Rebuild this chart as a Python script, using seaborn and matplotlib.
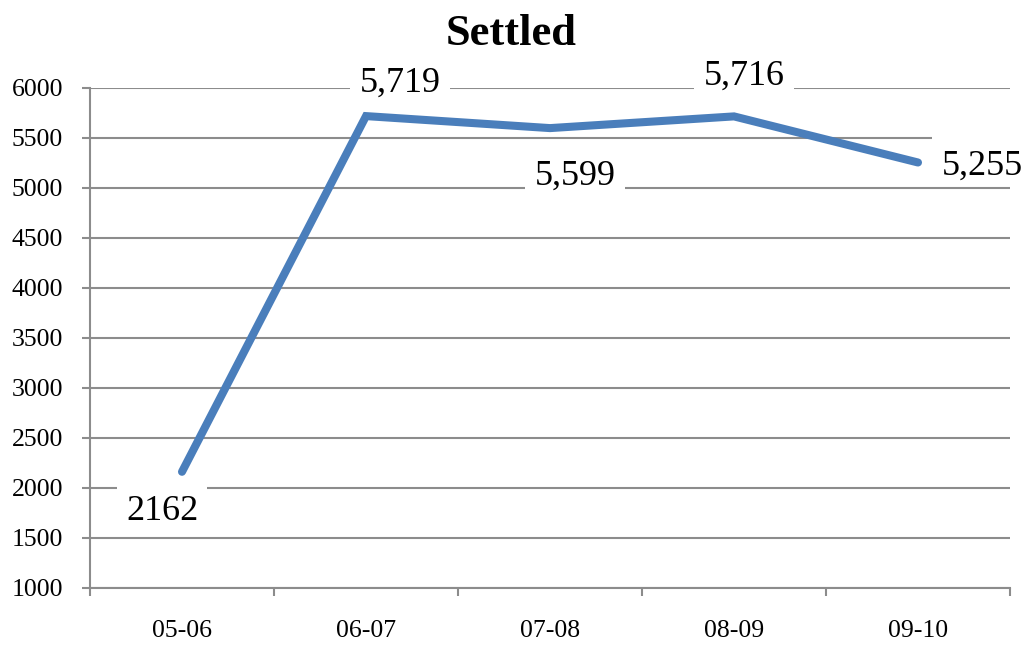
import matplotlib
matplotlib.use("Agg")
import matplotlib.pyplot as plt
import pandas as pd
import seaborn as sns
from matplotlib.path import Path
from matplotlib.ticker import FixedLocator, MultipleLocator

years = ["05-06", "06-07", "07-08", "08-09", "09-10"]
settled = [2162, 5719, 5599, 5716, 5255]
value_labels = ["2162", "5,719", "5,599", "5,716", "5,255"]
# label offsets in pixels (text centre / baseline relative to point)
label_offsets = [(-20, -48), (34, 24), (25, -57), (10, 32), (64, -12)]

LINE_COLOR = "#4a7ebb"
GRID_COLOR = "#8c8c8c"


def label_box(x0, y0, width, height, mutation_size):
    # white box behind data labels, more room above the digits than below
    px, top, bottom = 0.25 * mutation_size, 0.45 * mutation_size, -0.08 * mutation_size
    x1, y1 = x0 + width + px, y0 + height + top
    x0, y0 = x0 - px, y0 - bottom
    return Path([(x0, y0), (x1, y0), (x1, y1), (x0, y1), (x0, y0)], closed=True)


sns.set_style("white")
plt.rcParams["font.family"] = ["Liberation Serif", "DejaVu Serif"]
plt.rcParams["text.color"] = "black"
plt.rcParams["xtick.labelcolor"] = "black"
plt.rcParams["ytick.labelcolor"] = "black"

df = pd.DataFrame({"pos": range(len(years)), "Settled": settled})

fig = plt.figure(figsize=(10.31, 6.45), dpi=100)
ax = fig.add_axes([90 / 1031, 57 / 645, 920 / 1031, 500 / 645])

ax.yaxis.grid(True, color=GRID_COLOR, lw=1.5)
ax.set_axisbelow(True)

sns.lineplot(data=df, x="pos", y="Settled", ax=ax, color=LINE_COLOR,
             lw=5.8, solid_capstyle="round", solid_joinstyle="miter",
             zorder=2)

for i, (lab, (dx, dy)) in enumerate(zip(value_labels, label_offsets)):
    ax.annotate(lab, (i, settled[i]), textcoords="offset pixels",
                xytext=(dx, dy), ha="center", va="baseline", fontsize=26,
                zorder=4, bbox=dict(boxstyle=label_box, fc="white", ec="none"))

ax.set_xlim(-0.5, len(years) - 0.5)
ax.set_ylim(1000, 6000)
ax.yaxis.set_major_locator(MultipleLocator(500))
ax.set_xticks(range(len(years)))
ax.set_xticklabels(years)
ax.xaxis.set_minor_locator(FixedLocator([i - 0.5 for i in range(len(years) + 1)]))
ax.tick_params(axis="x", which="major", bottom=True, length=0, pad=23,
               labelsize=18.5)
ax.tick_params(axis="x", which="minor", bottom=True, length=6, width=1.5,
               color=GRID_COLOR, direction="out")
ax.tick_params(axis="y", left=True, length=6, width=1.5, color=GRID_COLOR,
               direction="out", pad=13.5, labelsize=18.5)
ax.set_xlabel("")
ax.set_ylabel("")

for side in ["top", "right"]:
    ax.spines[side].set_visible(False)
for side in ["left", "bottom"]:
    ax.spines[side].set_color(GRID_COLOR)
    ax.spines[side].set_linewidth(1.5)

fig.text(511 / 1031, (645 - 45) / 645, "Settled", ha="center",
         va="baseline", fontsize=32, fontweight="bold")

fig.savefig("out.png", dpi=100)
